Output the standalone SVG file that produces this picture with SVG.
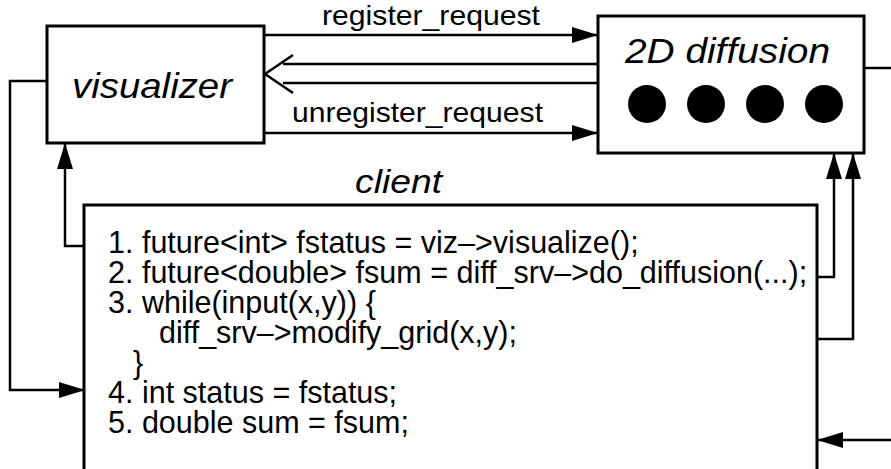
<svg xmlns="http://www.w3.org/2000/svg" width="891" height="469" viewBox="0 0 891 469">
<style>
.box{fill:#fff;stroke:#000;stroke-width:3}
.ln{fill:none;stroke:#000;stroke-width:2.5}
.it{font-family:"Liberation Sans",Arial,sans-serif;font-style:italic;fill:#000}
.lbl{font-family:"Liberation Sans",Arial,sans-serif;font-size:28px;fill:#000}
.code{font-family:"Liberation Sans",Arial,sans-serif;font-size:30.5px;fill:#000}
</style>
<defs>
<marker id="ah" markerWidth="26" markerHeight="16" refX="26" refY="8" orient="auto" markerUnits="userSpaceOnUse">
<path d="M0,0 L26,8 L0,16 Z" fill="#000"/>
</marker>
</defs>
<rect width="891" height="469" fill="#fff"/>
<g id="client">
<rect class="box" x="84" y="205" width="733" height="266"/>
<text class="it" x="355" y="193" font-size="34" textLength="87" lengthAdjust="spacingAndGlyphs">client</text>
<text class="code" x="108" y="253">1. future&lt;int&gt; fstatus = viz–&gt;visualize();</text>
<text class="code" x="108" y="283">2. future&lt;double&gt; fsum = diff_srv–&gt;do_diffusion(...);</text>
<text class="code" x="108" y="313">3. while(input(x,y)) {</text>
<text class="code" x="159" y="343">diff_srv–&gt;modify_grid(x,y);</text>
<text class="code" x="133" y="373">}</text>
<text class="code" x="108" y="403">4. int status = fstatus;</text>
<text class="code" x="108" y="433">5. double sum = fsum;</text>
</g>
<g id="visualizer">
<rect class="box" x="47" y="26" width="217" height="117"/>
<text class="it" x="72" y="98" font-size="35" textLength="160" lengthAdjust="spacingAndGlyphs">visualizer</text>
</g>
<g id="diffusion">
<rect class="box" x="598" y="16" width="266" height="137"/>
<text class="it" x="625" y="63" font-size="35" textLength="205" lengthAdjust="spacingAndGlyphs">2D diffusion</text>
<circle cx="647" cy="104" r="19"/>
<circle cx="706" cy="104" r="19"/>
<circle cx="765" cy="104" r="19"/>
<circle cx="824" cy="104" r="19"/>
</g>
<g id="connectors">
<path class="ln" d="M264,35 H598" marker-end="url(#ah)"/>
<text class="lbl" x="322" y="25" textLength="218" lengthAdjust="spacingAndGlyphs">register_request</text>
<path class="ln" d="M598,64 H283 M598,83 H283"/>
<path class="ln" d="M293,55 L265,74 L293,93"/>
<path class="ln" d="M264,133 H598" marker-end="url(#ah)"/>
<text class="lbl" x="292" y="122" textLength="251" lengthAdjust="spacingAndGlyphs">unregister_request</text>
<path class="ln" d="M47,81 H10 V390 H85" marker-end="url(#ah)"/>
<path class="ln" d="M84,246 H65 V143" marker-end="url(#ah)"/>
<path class="ln" d="M817,277 H834 V153" marker-end="url(#ah)"/>
<path class="ln" d="M817,339 H853 V153" marker-end="url(#ah)"/>
<path class="ln" d="M864,68 H891"/>
<path class="ln" d="M891,440 H817" marker-end="url(#ah)"/>
</g>
</svg>
